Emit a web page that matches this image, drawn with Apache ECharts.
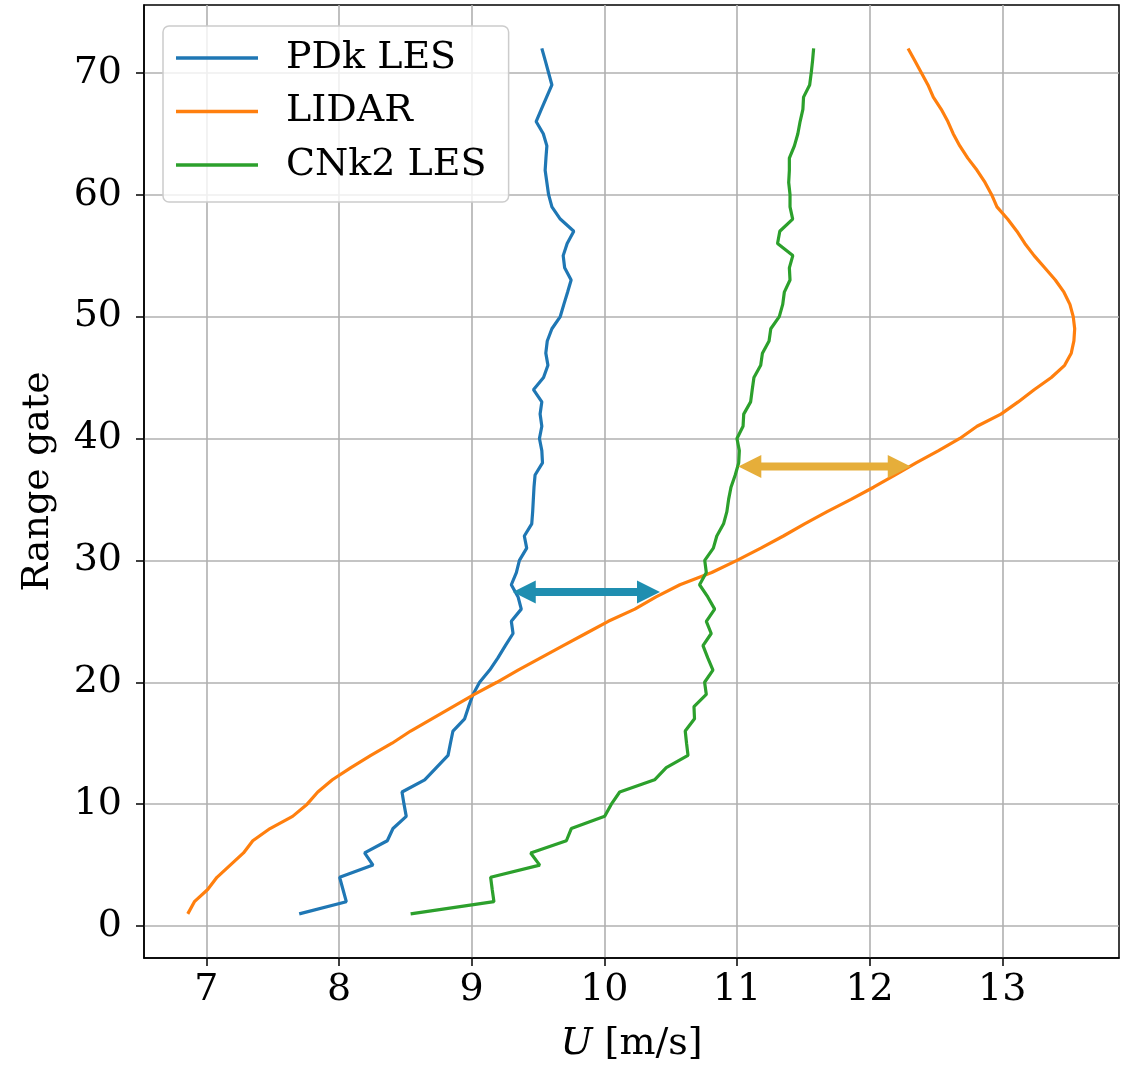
<!DOCTYPE html>
<html>
<head>
<meta charset="utf-8">
<script src="https://cdn.jsdelivr.net/npm/echarts@6/dist/echarts.min.js"></script>
<style>
  html, body { margin: 0; padding: 0; background: #ffffff; }
  #chart { width: 1125px; height: 1068px; }
</style>
</head>
<body>
<div id="chart"></div>
<script>
// Range gates (y values)
const gates = [1,2,3,4,5,6,7,8,9,10,11,12,13,14,15,16,17,18,19,20,21,22,23,24,25,26,27,28,29,30,
  31,32,33,34,35,36,37,38,39,40,41,42,43,44,45,46,47,48,49,50,51,52,53,54,55,56,57,58,59,60,
  61,62,63,64,65,66,67,68,69,70,71,72];

// PDk LES wind speed U [m/s]
const pdkLES = [7.70,8.055,8.03,8.005,8.256,8.193,8.364,8.407,8.507,8.49,
  8.475,8.646,8.734,8.822,8.84,8.859,8.947,8.977,9.01,9.06,
  9.136,9.198,9.254,9.312,9.299,9.374,9.35,9.299,9.337,9.36,
  9.415,9.397,9.453,9.46,9.465,9.47,9.478,9.534,9.529,9.511,
  9.529,9.516,9.529,9.466,9.542,9.575,9.559,9.57,9.605,9.668,
  9.695,9.723,9.750,9.701,9.69,9.72,9.770,9.668,9.605,9.58,
  9.567,9.554,9.56,9.567,9.54,9.486,9.525,9.565,9.605,9.58,
  9.555,9.529];

// LIDAR wind speed U [m/s]
const lidar = [6.86,6.91,7.01,7.08,7.18,7.28,7.35,7.48,7.65,7.76,
  7.84,7.95,8.09,8.24,8.40,8.54,8.70,8.86,9.02,9.19,
  9.35,9.52,9.69,9.86,10.03,10.23,10.39,10.57,10.81,11.0,
  11.18,11.35,11.51,11.68,11.86,12.03,12.19,12.35,12.52,12.68,
  12.81,12.99,13.12,13.24,13.37,13.47,13.52,13.54,13.546,13.535,
  13.51,13.465,13.40,13.32,13.24,13.17,13.11,13.04,12.96,12.92,
  12.87,12.81,12.74,12.68,12.63,12.59,12.54,12.48,12.44,12.39,
  12.34,12.29];

// CNk2 LES wind speed U [m/s]
const cnk2LES = [8.54,9.168,9.155,9.143,9.513,9.445,9.714,9.751,10.003,10.053,
  10.116,10.379,10.467,10.631,10.62,10.61,10.68,10.676,10.769,10.756,
  10.819,10.78,10.744,10.806,10.769,10.832,10.78,10.718,10.769,10.757,
  10.822,10.848,10.899,10.924,10.937,10.955,10.987,11.013,11.018,11.0,
  11.046,11.051,11.103,11.115,11.128,11.179,11.192,11.242,11.255,11.319,
  11.345,11.357,11.40,11.395,11.421,11.306,11.323,11.42,11.40,11.40,
  11.39,11.395,11.395,11.433,11.459,11.476,11.497,11.502,11.548,11.56,
  11.57,11.578];

// Tick values
const xTicks = [7,8,9,10,11,12,13];
const yTicks = [0,10,20,30,40,50,60,70];

// Annotation arrows: [U start, U end, range gate]
const arrowPDk = [9.31, 10.42, 27.4];
const arrowCNk2 = [11.01, 12.31, 37.7];

const FONT = 'DejaVu Serif';
const FS = 38;

function pairs(xs) { return gates.map((g, i) => [xs[i], g]); }

const chart = echarts.init(document.getElementById('chart'), null, { renderer: 'canvas' });

function renderArrow(params, api) {
  const x1 = api.value(0), x2 = api.value(1), y = api.value(2);
  const p1 = api.coord([x1, y]), p2 = api.coord([x2, y]);
  const L = 23, H = 11.5;
  const col = api.visual('color');
  return {
    type: 'group',
    children: [
      { type: 'line', shape: { x1: p1[0] + L - 2, y1: p1[1], x2: p2[0] - L + 2, y2: p2[1] },
        style: { stroke: col, lineWidth: 8 } },
      { type: 'polygon', shape: { points: [[p1[0], p1[1]], [p1[0] + L, p1[1] - H], [p1[0] + L, p1[1] + H]] },
        style: { fill: col } },
      { type: 'polygon', shape: { points: [[p2[0], p2[1]], [p2[0] - L, p2[1] - H], [p2[0] - L, p2[1] + H]] },
        style: { fill: col } }
    ]
  };
}

const option = {
  animation: false,
  backgroundColor: '#ffffff',
  grid: {
    left: 144, right: 6, top: 5, bottom: 106,
    show: true, borderColor: '#000000', borderWidth: 1.5, backgroundColor: 'transparent'
  },
  legend: {
    data: ['PDk LES', 'LIDAR', 'CNk2 LES'],
    orient: 'vertical',
    left: 163, top: 26,
    icon: 'rect',
    itemWidth: 82, itemHeight: 3.5,
    itemGap: 15.5,
    formatter: function (name) { return '{t|' + name + '}'; },
    padding: [13, 22, 18, 13],
    backgroundColor: 'rgba(255,255,255,0.8)',
    borderColor: '#cccccc', borderWidth: 1.5, borderRadius: 6,
    textStyle: {
      fontFamily: FONT, fontSize: FS, color: '#000000',
      rich: { t: { fontFamily: FONT, fontSize: FS, color: '#000000', lineHeight: 42, padding: [0, 0, 0, 23] } }
    }
  },
  xAxis: {
    type: 'value', min: 6.53, max: 13.88,
    name: '{it|U} [m/s]', nameLocation: 'middle', nameGap: 67,
    nameTextStyle: {
      fontFamily: FONT, fontSize: FS, color: '#000000',
      rich: { it: { fontFamily: FONT, fontStyle: 'italic', fontSize: FS, color: '#000000' } }
    },
    axisLine: { show: true, onZero: false, lineStyle: { color: '#000000', width: 1.5 } },
    axisTick: { show: true, length: 8, inside: false, customValues: xTicks, lineStyle: { color: '#000000', width: 1.5 } },
    axisLabel: { customValues: xTicks, margin: 13, fontFamily: FONT, fontSize: FS, color: '#000000' },
    splitLine: { show: true, lineStyle: { color: '#b0b0b0', width: 1.6 } }
  },
  yAxis: {
    type: 'value', min: -2.62, max: 75.56,
    name: 'Range gate', nameLocation: 'middle', nameGap: 87, nameRotate: 90,
    nameTextStyle: { fontFamily: FONT, fontSize: FS, color: '#000000' },
    axisLine: { show: true, onZero: false, lineStyle: { color: '#000000', width: 1.5 } },
    axisTick: { show: true, length: 8, inside: false, customValues: yTicks, lineStyle: { color: '#000000', width: 1.5 } },
    axisLabel: { customValues: yTicks, margin: 22, fontFamily: FONT, fontSize: FS, color: '#000000' },
    splitLine: { show: true, lineStyle: { color: '#b0b0b0', width: 1.6 } }
  },
  series: [
    { name: 'PDk LES', type: 'line', data: pairs(pdkLES), showSymbol: false, symbol: 'none',
      color: '#1f77b4', lineStyle: { width: 3.2, color: '#1f77b4' }, z: 3 },
    { name: 'LIDAR', type: 'line', data: pairs(lidar), showSymbol: false, symbol: 'none',
      color: '#ff7f0e', lineStyle: { width: 3.2, color: '#ff7f0e' }, z: 3 },
    { name: 'CNk2 LES', type: 'line', data: pairs(cnk2LES), showSymbol: false, symbol: 'none',
      color: '#2ca02c', lineStyle: { width: 3.2, color: '#2ca02c' }, z: 3 },
    { name: 'arrows', type: 'custom', renderItem: renderArrow, z: 5,
      encode: { x: [0, 1], y: 2 },
      data: [
        { value: arrowPDk, itemStyle: { color: '#1f8eb0' } },
        { value: arrowCNk2, itemStyle: { color: '#e6ae3a' } }
      ] }
  ]
};

chart.setOption(option);
</script>
</body>
</html>
